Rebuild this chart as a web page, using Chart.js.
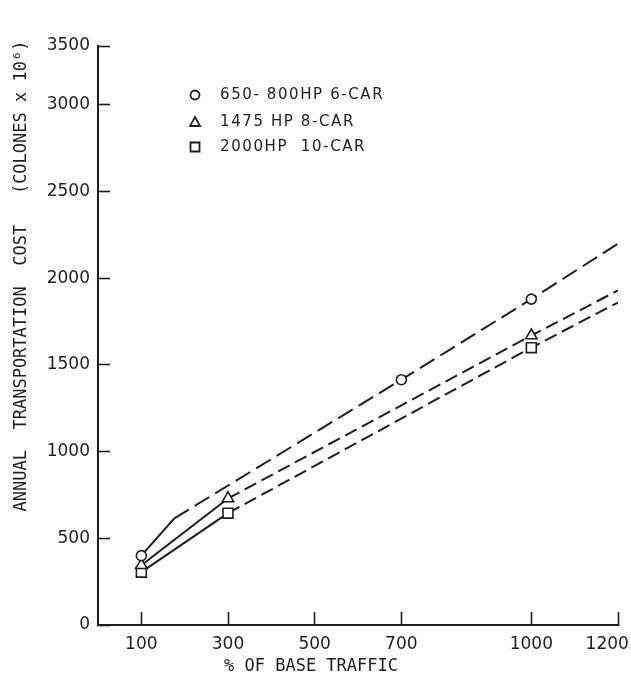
<!DOCTYPE html>
<html>
<head>
<meta charset="utf-8">
<script src="https://cdn.jsdelivr.net/npm/chart.js@4.4.1/dist/chart.umd.min.js"></script>
<style>
html, body { margin: 0; padding: 0; background: #fff; }
#canvas { width: 631px; height: 678px; }
</style>
</head>
<body>
<div id="canvas"><canvas id="myChart"></canvas></div>
<script>
const seriesLabels = ['650- 800HP 6-CAR', '1475 HP 8-CAR', '2000HP  10-CAR'];

// % of base traffic / annual cost (colones x 10^6); last point = where the dashed line stops
const traffic6Car = [100, 176, 700, 1000, 1200];
const cost6Car = [400, 615, 1415, 1880, 2200];
const marked6Car = [true, false, true, true, false];

const traffic8Car = [100, 300, 1000, 1200];
const cost8Car = [345, 730, 1670, 1930];
const marked8Car = [true, true, true, false];

const traffic10Car = [100, 300, 1000, 1200];
const cost10Car = [305, 645, 1600, 1860];
const marked10Car = [true, true, true, false];

const xTickValues = [100, 300, 500, 700, 1000, 1200];
// the original axis is squeezed at the top: its last tick reads 3500
const yTickValues = [0, 500, 1000, 1500, 2000, 2500, 3000, 3340];
const yTickLabels = ['0', '500', '1000', '1500', '2000', '2500', '3000', '3500'];

const yTitle = 'ANNUAL  TRANSPORTATION  COST   (COLONES x 10\u2076)';
const xTitle = '% OF BASE TRAFFIC';

const INK = '#1e1e1e';

function series(label, xs, ys, marked, style, radius, dash) {
    return {
        label: label,
        data: xs.map((x, i) => ({ x: x, y: ys[i] })),
        borderColor: INK,
        borderWidth: 2,
        backgroundColor: '#fff',
        pointStyle: style,
        pointRadius: ctx => marked[ctx.dataIndex] ? radius : 0,
        pointBorderWidth: 1.6,
        pointBorderColor: INK,
        pointBackgroundColor: '#fff',
        fill: false,
        tension: 0,
        // first segment is drawn solid, the rest dashed
        segment: {
            borderDash: ctx => ctx.p0DataIndex < 1 ? [] : dash
        }
    };
}

const data = {
    datasets: [
        series(seriesLabels[0], traffic6Car, cost6Car, marked6Car, 'circle', 5, [17, 7]),
        series(seriesLabels[1], traffic8Car, cost8Car, marked8Car, 'triangle', 6.5, [13, 6]),
        series(seriesLabels[2], traffic10Car, cost10Car, marked10Car, 'rect', 7, [13, 6])
    ]
};

// legend + axis titles placed where the original has them
const annotations = {
    id: 'annotations',
    afterDraw(chart) {
        const ctx = chart.ctx;
        ctx.save();
        ctx.fillStyle = INK;
        ctx.strokeStyle = INK;

        ctx.font = '17px "DejaVu Sans Mono"';
        ctx.textAlign = 'center';
        ctx.textBaseline = 'middle';
        ctx.fillText(xTitle, 311, 667);

        ctx.save();
        ctx.translate(22, 276);
        ctx.rotate(-Math.PI / 2);
        ctx.fillText(yTitle, 0, 0);
        ctx.restore();

        const rows = [95, 122, 147];
        ctx.lineWidth = 1.8;
        chart.data.datasets.forEach((ds, i) => {
            const x = 195, y = rows[i];
            ctx.beginPath();
            if (ds.pointStyle === 'circle') {
                ctx.arc(x, y, 4.5, 0, Math.PI * 2);
            } else if (ds.pointStyle === 'triangle') {
                ctx.moveTo(x, y - 5);
                ctx.lineTo(x + 5, y + 4);
                ctx.lineTo(x - 5, y + 4);
                ctx.closePath();
            } else {
                ctx.rect(x - 4.5, y - 4.5, 9, 9);
            }
            ctx.stroke();

            ctx.font = '15px "DejaVu Sans"';
            ctx.letterSpacing = '1.6px';
            ctx.textAlign = 'left';
            ctx.fillText(ds.label, 220, y);
            ctx.letterSpacing = '0px';
        });
        ctx.restore();
    }
};

const options = {
    responsive: true,
    maintainAspectRatio: false,
    animation: false,
    events: [],
    layout: {
        padding: { top: 46, right: 13, left: 0, bottom: 0 }
    },
    scales: {
        x: {
            type: 'linear',
            min: 0,
            max: 1200,
            afterBuildTicks: s => { s.ticks = xTickValues.map(v => ({ value: v })); },
            afterFit: s => { s.height = 53; s.paddingLeft = 0; s.paddingRight = 0; },
            grid: {
                drawOnChartArea: false,
                tickLength: -13,
                tickWidth: 1.6,
                tickColor: INK
            },
            border: { color: INK, width: 2 },
            ticks: {
                padding: 22,
                color: INK,
                maxRotation: 0,
                font: { family: 'DejaVu Sans', size: 17 },
                // the last label sits a little left of its tick, as in the original
                callback: v => v === 1200 ? String(v) + '    ' : String(v)
            }
        },
        y: {
            min: 0,
            max: yTickValues[yTickValues.length - 1],
            afterBuildTicks: s => { s.ticks = yTickValues.map(v => ({ value: v })); },
            afterFit: s => { s.width = 98; s.paddingTop = 0; s.paddingBottom = 0; },
            grid: {
                drawOnChartArea: false,
                tickLength: -12,
                tickWidth: 1.6,
                tickColor: INK
            },
            border: { color: INK, width: 2 },
            ticks: {
                padding: 20,
                color: INK,
                font: { family: 'DejaVu Sans', size: 17 },
                callback: (v, i) => yTickLabels[i]
            }
        }
    },
    plugins: {
        legend: { display: false },
        tooltip: { enabled: false }
    }
};

const canvas = document.getElementById('myChart');
const myChart = new Chart(canvas.getContext('2d'), {
    type: 'line',
    data: data,
    options: options,
    plugins: [annotations]
});
</script>
</body>
</html>
